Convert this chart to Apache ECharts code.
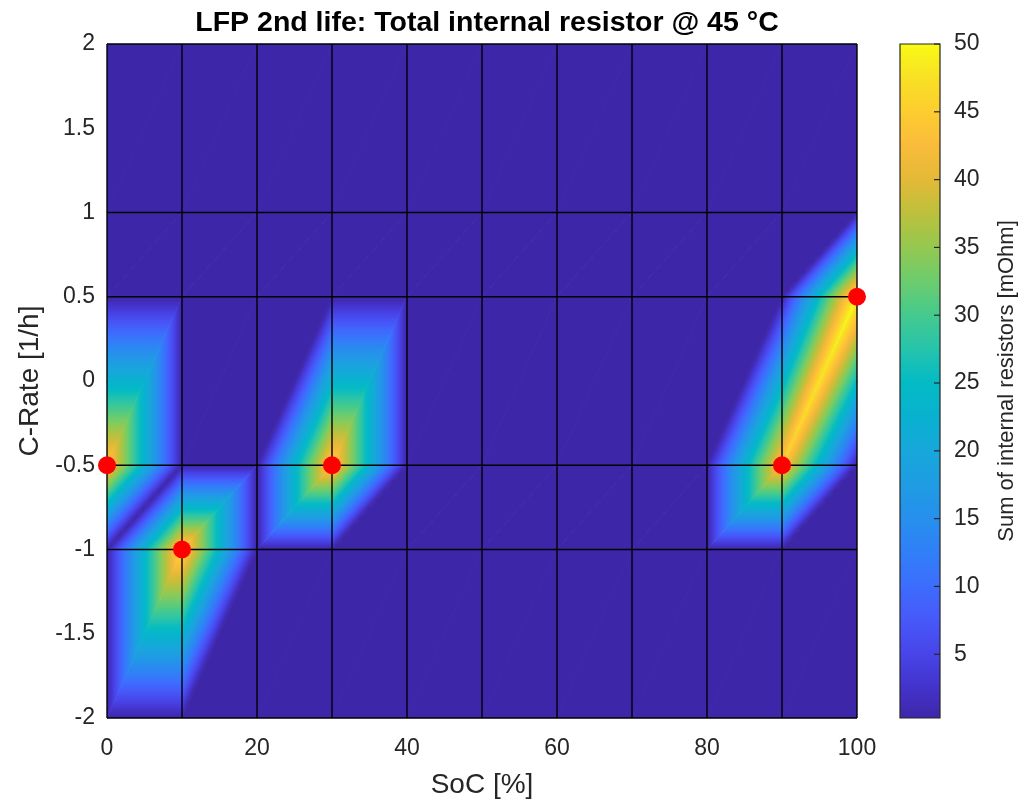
<!DOCTYPE html>
<html>
<head>
<meta charset="utf-8">
<script src="https://cdn.jsdelivr.net/npm/echarts@6/dist/echarts.min.js"></script>
<style>
html,body{margin:0;padding:0;background:#fff;}
#chart{width:1018px;height:803px;}
</style>
</head>
<body>
<div id="chart"></div>
<script>
// ---- data ----
const socGrid   = [0, 10, 20, 30, 40, 50, 60, 70, 80, 90, 100];
const crateGrid = [-2, -1, -0.5, 0.5, 1, 2];
// one row of resistor sums [mOhm] per C-rate, columns follow socGrid
const rAtCm2   = [0.3, 0.3, 0.3, 0.3, 0.3, 0.3, 0.3, 0.3, 0.3, 0.3, 0.3];
const rAtCm1   = [0.3, 47, 0.3, 0.3, 0.3, 0.3, 0.3, 0.3, 0.3, 0.3, 0.3];
const rAtCm05  = [45, 0.3, 0.3, 46, 0.3, 0.3, 0.3, 0.3, 0.3, 45, 0.3];
const rAtCp05  = [0.3, 0.3, 0.3, 0.3, 0.3, 0.3, 0.3, 0.3, 0.3, 0.3, 50];
const rAtCp1   = [0.3, 0.3, 0.3, 0.3, 0.3, 0.3, 0.3, 0.3, 0.3, 0.3, 0.3];
const rAtCp2   = [0.3, 0.3, 0.3, 0.3, 0.3, 0.3, 0.3, 0.3, 0.3, 0.3, 0.3];
const peakSoc   = [0, 10, 30, 90, 100];
const peakCrate = [-0.5, -1, -0.5, -0.5, 0.5];
const xTicks  = [0, 20, 40, 60, 80, 100];
const yTicks  = [-2, -1.5, -1, -0.5, 0, 0.5, 1, 1.5, 2];
const cbTicks = [5, 10, 15, 20, 25, 30, 35, 40, 45, 50];

const rows = [rAtCm2, rAtCm1, rAtCm05, rAtCp05, rAtCp1, rAtCp2];
const allVals = rows.flat();
const cMin = Math.min(...allVals), cMax = Math.max(...allVals);

// parula-like colormap stops (t in 0..1)
const cmap = [
  [0.00, [62, 38, 168]], [0.05, [68, 52, 205]], [0.10, [72, 70, 235]],
  [0.15, [70, 90, 250]], [0.20, [60, 110, 253]], [0.25, [48, 128, 247]],
  [0.30, [38, 144, 236]], [0.35, [30, 157, 226]], [0.40, [22, 168, 218]],
  [0.45, [8, 178, 207]], [0.50, [4, 187, 196]], [0.55, [40, 196, 170]],
  [0.60, [70, 202, 140]], [0.65, [110, 204, 108]], [0.70, [150, 200, 80]],
  [0.75, [190, 192, 60]], [0.80, [228, 185, 55]], [0.85, [250, 188, 58]],
  [0.90, [253, 205, 48]], [0.95, [248, 225, 36]], [1.00, [249, 251, 20]]
];
function colorOf(v) {
  let t = (v - cMin) / (cMax - cMin);
  t = Math.max(0, Math.min(1, t));
  for (let i = 1; i < cmap.length; i++) {
    if (t <= cmap[i][0]) {
      const a = cmap[i - 1], b = cmap[i];
      const f = (t - a[0]) / (b[0] - a[0]);
      const c = a[1].map((x, k) => Math.round(x + (b[1][k] - x) * f));
      return 'rgb(' + c.join(',') + ')';
    }
  }
  return 'rgb(249,251,20)';
}

// cells built from the grids and rows
const cells = [];
for (let j = 0; j < crateGrid.length - 1; j++)
  for (let i = 0; i < socGrid.length - 1; i++)
    cells.push([socGrid[i], socGrid[i + 1], crateGrid[j], crateGrid[j + 1],
      rows[j][i], rows[j][i + 1], rows[j + 1][i], rows[j + 1][i + 1]]);

function triGradient(P, V) {
  const [x1, y1] = P[0], [x2, y2] = P[1], [x3, y3] = P[2];
  const [v1, v2, v3] = V;
  const vmin = Math.min(v1, v2, v3), vmax = Math.max(v1, v2, v3);
  if (vmax - vmin < 1e-6) return colorOf(v1);
  const det = (x2 - x1) * (y3 - y1) - (x3 - x1) * (y2 - y1);
  const a = ((v2 - v1) * (y3 - y1) - (v3 - v1) * (y2 - y1)) / det;
  const b = ((x2 - x1) * (v3 - v1) - (x3 - x1) * (v2 - v1)) / det;
  const g2 = a * a + b * b;
  const k = V.indexOf(vmin);
  const S = P[k];
  const E = [S[0] + (vmax - vmin) * a / g2, S[1] + (vmax - vmin) * b / g2];
  const stops = [];
  const N = 40;
  for (let n = 0; n <= N; n++) stops.push({ offset: n / N, color: colorOf(vmin + (vmax - vmin) * n / N) });
  return { type: 'linear', x: S[0], y: S[1], x2: E[0], y2: E[1], global: true, colorStops: stops };
}

function renderCell(params, api) {
  const x0 = api.value(0), x1 = api.value(1), y0 = api.value(2), y1 = api.value(3);
  const z00 = api.value(4), z10 = api.value(5), z01 = api.value(6), z11 = api.value(7);
  const p00 = api.coord([x0, y0]), p10 = api.coord([x1, y0]);
  const p01 = api.coord([x0, y1]), p11 = api.coord([x1, y1]);
  const t1 = [p00, p10, p11], v1 = [z00, z10, z11];
  const t2 = [p00, p01, p11], v2 = [z00, z01, z11];
  const g1 = triGradient(t1, v1), g2 = triGradient(t2, v2);
  return {
    type: 'group',
    children: [
      { type: 'polygon', shape: { points: t1 }, style: { fill: g1, stroke: g1, lineWidth: 0.8 } },
      { type: 'polygon', shape: { points: t2 }, style: { fill: g2, stroke: g2, lineWidth: 0.8 } }
    ]
  };
}

// mesh lines
const meshLines = [];
socGrid.forEach(x => meshLines.push([x, crateGrid[0], x, crateGrid[crateGrid.length - 1]]));
crateGrid.forEach(y => meshLines.push([socGrid[0], y, socGrid[socGrid.length - 1], y]));
function renderMesh(params, api) {
  const a = api.coord([api.value(0), api.value(1)]);
  const b = api.coord([api.value(2), api.value(3)]);
  return { type: 'line', shape: { x1: a[0], y1: a[1], x2: b[0], y2: b[1] },
    style: { stroke: '#000', lineWidth: 1.4 } };
}

function renderColorbar(params, api) {
  const a = api.coord([0, cMin]);
  const b = api.coord([1, cMax]);
  const stops = [];
  const N = 60;
  for (let n = 0; n <= N; n++) stops.push({ offset: n / N, color: colorOf(cMax - (cMax - cMin) * n / N) });
  const children = [{
    type: 'rect',
    shape: { x: a[0], y: b[1], width: b[0] - a[0], height: a[1] - b[1] },
    style: { fill: { type: 'linear', x: 0, y: 0, x2: 0, y2: 1, colorStops: stops },
      stroke: '#262626', lineWidth: 1.2 }
  }];
  cbTicks.forEach(v => {
    const p = api.coord([1, v]);
    children.push({ type: 'line', shape: { x1: p[0] - 6, y1: p[1], x2: p[0], y2: p[1] },
      style: { stroke: '#262626', lineWidth: 1.2 } });
  });
  return { type: 'group', children };
}

const FONT = "'Liberation Sans', Arial, Helvetica, sans-serif";
const TXT = '#262626';

const chart = echarts.init(document.getElementById('chart'), null, { renderer: 'canvas' });
chart.setOption({
  animation: false,
  backgroundColor: '#fff',
  textStyle: { fontFamily: FONT },
  title: {
    text: 'LFP 2nd life: Total internal resistor @ 45 °C',
    left: 482, top: 4, textAlign: 'center',
    textStyle: { fontFamily: FONT, fontWeight: 'bold', fontSize: 28.5, color: '#000' }
  },
  grid: [
    { left: 107, right: 161, top: 44, bottom: 85, outerBoundsMode: 'none', containLabel: false },
    { left: 900, right: 78, top: 44, bottom: 85, outerBoundsMode: 'none', containLabel: false }
  ],
  xAxis: [
    { type: 'value', gridIndex: 0, min: 0, max: 100,
      axisLine: { show: true, lineStyle: { color: TXT } },
      axisTick: { show: false },
      splitLine: { show: false },
      axisLabel: { customValues: xTicks, fontSize: 23, color: TXT, margin: 19, fontFamily: FONT },
      name: 'SoC [%]', nameLocation: 'middle', nameGap: 53,
      nameTextStyle: { fontSize: 28, color: TXT, fontFamily: FONT } },
    { type: 'value', gridIndex: 1, min: 0, max: 1, show: false }
  ],
  yAxis: [
    { type: 'value', gridIndex: 0, min: -2, max: 2,
      axisLine: { show: true, lineStyle: { color: TXT } },
      axisTick: { show: false },
      splitLine: { show: false },
      axisLabel: { customValues: yTicks, fontSize: 23, color: TXT, margin: 12, fontFamily: FONT },
      name: 'C-Rate [1/h]', nameLocation: 'middle', nameGap: 63,
      nameTextStyle: { fontSize: 28, color: TXT, fontFamily: FONT } },
    { type: 'value', gridIndex: 1, min: cMin, max: cMax, position: 'right',
      axisLine: { show: false },
      axisTick: { show: false },
      splitLine: { show: false },
      axisLabel: { customValues: cbTicks, fontSize: 23, color: TXT, margin: 14, fontFamily: FONT },
      name: 'Sum of internal resistors [mOhm]', nameLocation: 'middle', nameGap: 56, nameRotate: 90,
      nameTextStyle: { fontSize: 22, color: TXT, fontFamily: FONT } }
  ],
  series: [
    { type: 'custom', xAxisIndex: 0, yAxisIndex: 0, renderItem: renderCell, data: cells, clip: true, z: 1, silent: true },
    { type: 'custom', xAxisIndex: 0, yAxisIndex: 0, renderItem: renderMesh, data: meshLines, z: 2, silent: true },
    { type: 'scatter', xAxisIndex: 0, yAxisIndex: 0, data: peakSoc.map((s, i) => [s, peakCrate[i]]),
      symbol: 'circle', symbolSize: 18, itemStyle: { color: '#ff0000', opacity: 1 }, z: 3, silent: true },
    { type: 'custom', xAxisIndex: 1, yAxisIndex: 1, renderItem: renderColorbar, data: [[0]], z: 1, silent: true }
  ]
});
</script>
</body>
</html>
